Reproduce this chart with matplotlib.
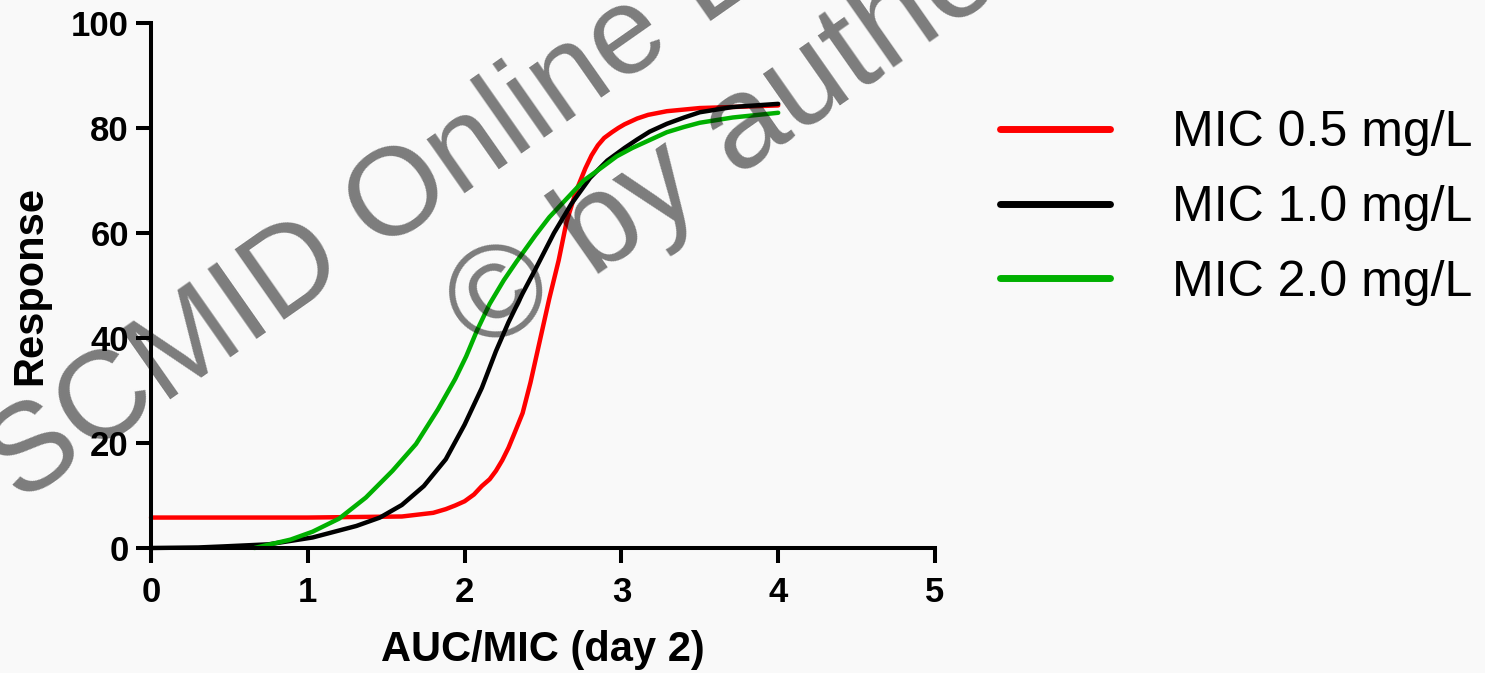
import matplotlib
matplotlib.use('Agg')
import matplotlib.pyplot as plt

plt.rcParams['font.family'] = ['Liberation Sans', 'DejaVu Sans']

# values (AUC/MIC on day 2 vs response)
x_red = [0.0, 0.5, 1.0, 1.6, 1.8, 1.88, 1.94, 2.0, 2.06, 2.11, 2.16, 2.2, 2.24, 2.28, 2.32,
         2.37, 2.42, 2.48, 2.54, 2.6, 2.65, 2.71, 2.77, 2.81, 2.85, 2.89, 2.94, 2.98, 3.02,
         3.1, 3.17, 3.29, 3.5, 3.71, 4.0]
y_red = [5.8, 5.8, 5.8, 6.0, 6.7, 7.4, 8.1, 8.9, 10.2, 11.8, 13.1, 14.7, 16.7, 19.1, 22.0,
         25.7, 31.5, 39.5, 47.5, 54.8, 62.1, 67.9, 72.3, 74.8, 76.7, 78.1, 79.2, 80.0, 80.7,
         81.8, 82.5, 83.2, 83.8, 84.0, 84.3]

x_black = [0.0, 0.3, 0.46, 0.75, 1.03, 1.31, 1.46, 1.6, 1.74, 1.88, 2.0, 2.11, 2.2, 2.28,
           2.37, 2.45, 2.57, 2.68, 2.8, 2.91, 3.02, 3.1, 3.18, 3.29, 3.4, 3.5, 3.71, 4.0]
y_black = [0.0, 0.1, 0.3, 0.7, 2.0, 4.2, 5.8, 8.2, 11.8, 16.9, 23.5, 30.5, 37.5, 43.0,
           48.5, 53.0, 60.0, 65.5, 70.5, 73.8, 76.2, 77.8, 79.3, 80.8, 82.0, 83.0, 84.0, 84.6]

x_green = [0.66, 0.89, 1.03, 1.2, 1.37, 1.54, 1.69, 1.83, 1.94, 2.01, 2.08, 2.16, 2.25,
           2.33, 2.45, 2.54, 2.65, 2.76, 2.88, 2.97, 3.07, 3.18, 3.29, 3.4, 3.5, 3.71, 4.0]
y_green = [0.0, 1.6, 3.1, 5.6, 9.6, 14.7, 19.8, 26.4, 32.2, 36.5, 41.5, 46.5, 51.0,
           54.5, 59.5, 63.0, 66.5, 70.0, 72.6, 74.6, 76.2, 77.7, 79.2, 80.2, 81.0, 82.0, 82.9]

labels = ['MIC 0.5 mg/L', 'MIC 1.0 mg/L', 'MIC 2.0 mg/L']
colors = ['#ff0000', '#000000', '#00b000']
x_ticks = [0, 1, 2, 3, 4, 5]
y_ticks = [0, 20, 40, 60, 80, 100]

fig = plt.figure(figsize=(14.85, 6.73), dpi=100)
fig.patch.set_facecolor('#f9f9f9')
ax = fig.add_axes([151/1485, 1-548/673, (935-151)/1485, (548-23)/673])
ax.set_facecolor('none')

series = [(x_red, y_red), (x_black, y_black), (x_green, y_green)]
handles = []
for (xs, ys), c, lab in zip(series, colors, labels):
    h, = ax.plot(xs, ys, color=c, lw=3.2, label=lab, solid_capstyle='round',
                 solid_joinstyle='round', clip_on=False)
    handles.append(h)

ax.set_xlim(0, 5)
ax.set_ylim(0, 100)
ax.set_xticks(x_ticks)
ax.set_yticks(y_ticks)
for s in ['top', 'right']:
    ax.spines[s].set_visible(False)
for s in ['left', 'bottom']:
    ax.spines[s].set_linewidth(2.9)
ax.tick_params(axis='both', direction='out', length=11, width=2.9, labelsize=25)
ax.tick_params(axis='x', pad=9)
ax.tick_params(axis='y', pad=5)
for t in ax.get_xticklabels() + ax.get_yticklabels():
    t.set_fontweight('bold')
ax.set_xlabel('AUC/MIC (day 2)', fontsize=30, fontweight='bold', labelpad=15)
ax.set_ylabel('Response', fontsize=30, fontweight='bold', labelpad=15)

leg = fig.legend(handles=handles, labels=labels, loc='center left',
                 bbox_to_anchor=(1000/1485, 1-208/673), frameon=False,
                 fontsize=36, handlelength=2.2, handletextpad=1.25,
                 labelspacing=0.57, borderpad=0, borderaxespad=0)
for l in leg.get_lines():
    l.set_linewidth(5)

# watermark
fig.text(20/1485, 1-505/673, 'SCMID Online Lecture Library', fontsize=90,
         color='black', alpha=0.5, rotation=35, rotation_mode='anchor',
         ha='left', va='baseline')
fig.text(483/1485, 1-356/673, '\u00a9 by author', fontsize=95,
         color='black', alpha=0.5, rotation=35, rotation_mode='anchor',
         ha='left', va='baseline')

fig.savefig('out.png', dpi=100, facecolor=fig.get_facecolor())
